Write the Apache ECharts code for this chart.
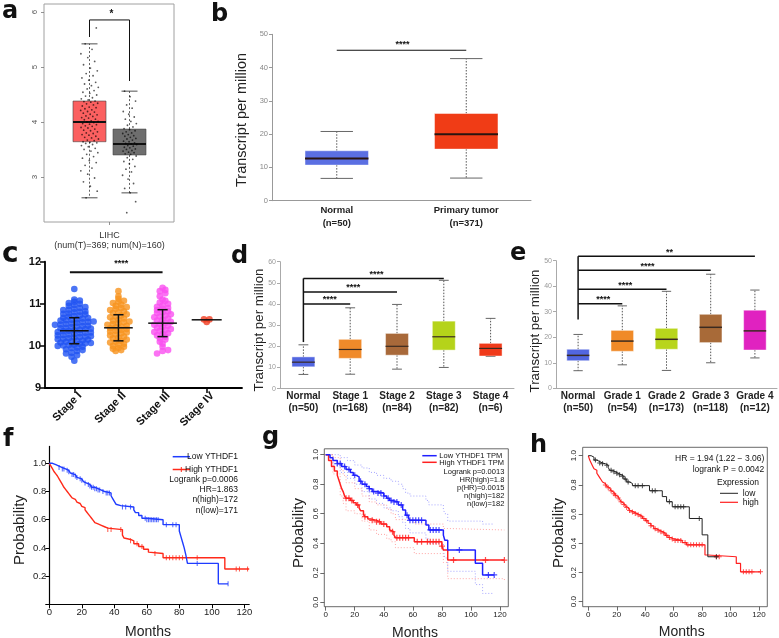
<!DOCTYPE html>
<html><head><meta charset="utf-8">
<script src="https://cdn.jsdelivr.net/npm/echarts@6/dist/echarts.min.js"></script>
<style>html,body{margin:0;padding:0;background:#fff}#c{width:779px;height:638px}</style>
</head><body><div id="c"></div>
<script>
// ---------- panel a ----------
const aStats = [[2.62,3.64,4.00,4.38,5.42],[2.71,3.40,3.60,3.87,4.56]]; // [low, q1, median, q3, high]
const aTumor = [2.62,2.74,2.83,2.91,2.98,3.05,3.11,3.16,3.21,3.26,3.3,3.34,3.37,3.41,3.44,3.47,3.5,3.52,3.55,3.57,3.59,3.61,3.62,3.63,3.64,
3.66,3.67,3.69,3.71,3.72,3.74,3.76,3.77,3.79,3.8,3.82,3.84,3.85,3.87,3.89,3.9,3.92,3.93,3.95,3.96,3.97,3.99,4.0,4.01,4.02,4.04,4.05,4.07,4.08,4.1,4.11,4.13,4.14,4.16,4.18,4.19,4.21,4.22,4.24,4.26,4.27,4.29,4.31,4.33,4.34,4.36,4.37,4.38,
4.4,4.42,4.44,4.47,4.49,4.52,4.54,4.57,4.6,4.63,4.66,4.69,4.72,4.76,4.8,4.84,4.88,4.93,4.98,5.04,5.1,5.17,5.24,5.32,5.42,5.71];
const aNormal = [2.35,2.55,2.71,2.79,2.88,2.96,3.03,3.09,3.14,3.19,3.24,3.28,3.32,3.35,3.38,
3.41,3.42,3.44,3.45,3.47,3.48,3.5,3.51,3.53,3.54,3.56,3.57,3.59,3.6,3.61,3.62,3.64,3.65,3.67,3.69,3.7,3.72,3.74,3.75,3.77,3.79,3.8,3.82,3.84,3.86,
3.88,3.91,3.94,3.97,4.01,4.05,4.09,4.14,4.19,4.25,4.31,4.38,4.46,4.56];
const aTicks = [3,4,5,6];
const aBracket = [[1,5.545],[1,5.855],[2,5.855],[2,4.745]];
// ---------- panel b ----------
const bCats = ['Normal\n(n=50)','Primary tumor\n(n=371)'];
const bStats = [[6.7,10.7,12.7,15.0,20.8],[6.8,15.5,20.0,26.2,42.7]];
const bTicks = [0,10,20,30,40,50];
const bSig = 45.2;
// ---------- panel c ----------
const cCats = ['Stage I','Stage II','Stage III','Stage IV'];
const cStage1 = [9.65,9.74,9.78,9.82,9.84,9.88,9.9,9.92,9.95,9.96,9.98,10.0,10.01,10.02,10.03,10.05,10.06,10.07,10.08,10.1,10.11,10.12,10.13,10.15,10.16,10.17,10.18,10.2,10.21,10.22,10.23,10.25,10.26,10.27,10.28,10.3,10.31,10.32,10.33,10.35,10.36,10.37,10.38,10.4,10.41,10.42,10.43,10.45,10.46,10.47,10.48,10.5,10.51,10.52,10.53,10.55,10.56,10.57,10.58,10.6,10.61,10.62,10.63,10.65,10.66,10.67,10.7,10.71,10.72,10.75,10.76,10.77,10.8,10.81,10.82,10.85,10.86,10.88,10.9,10.92,10.95,10.97,11.0,11.02,11.05,11.08,11.1,11.35];
const cStage2 = [9.88,9.9,9.93,9.95,9.98,10.0,10.03,10.05,10.08,10.1,10.12,10.15,10.18,10.2,10.22,10.25,10.27,10.3,10.32,10.34,10.36,10.38,10.4,10.42,10.44,10.46,10.48,10.5,10.52,10.54,10.56,10.58,10.6,10.62,10.65,10.68,10.7,10.72,10.75,10.78,10.8,10.82,10.85,10.88,10.9,10.92,10.95,10.98,11.02,11.05,11.07,11.12,11.18,11.3];
const cStage3 = [9.82,9.88,9.9,9.98,10.05,10.1,10.15,10.18,10.22,10.25,10.28,10.3,10.33,10.36,10.38,10.4,10.43,10.45,10.48,10.5,10.52,10.55,10.57,10.6,10.62,10.65,10.68,10.7,10.72,10.75,10.78,10.8,10.82,10.85,10.88,10.9,10.93,10.96,11.0,11.03,11.07,11.1,11.18,11.25,11.3,11.33,11.38];
const cStage4 = [10.63,10.57,10.63];
const cMean = [10.36,10.43,10.54,10.62];
const cSD = [0.31,0.31,0.32,0.02];
const cTicks = [9,10,11,12];
const cSig = [0.9,3.0,11.75];
// ---------- panel d ----------
const dCats = ['Normal\n(n=50)','Stage 1\n(n=168)','Stage 2\n(n=84)','Stage 3\n(n=82)','Stage 4\n(n=6)'];
const dStats = [[6.7,10.3,12.5,15.0,20.7],[6.8,14.3,18.5,23.3,38.2],[9.2,15.8,20.0,26.1,39.8],[10.0,18.2,24.5,31.9,51.2],[15.2,15.4,19.0,21.4,33.2]];
const dTicks = [0,10,20,30,40,50,60];
const dBase = 22;
const dBrackets = [[1,40.0,'****'],[2,45.7,'****'],[3,52.1,'****']];
// ---------- panel e ----------
const eCats = ['Normal\n(n=50)','Grade 1\n(n=54)','Grade 2\n(n=173)','Grade 3\n(n=118)','Grade 4\n(n=12)'];
const eStats = [[6.9,10.8,12.9,15.3,21.1],[9.2,14.5,18.5,22.7,32.3],[7.0,15.3,19.2,23.5,38.0],[10.0,17.9,23.9,29.0,44.7],[11.9,15.0,22.5,30.6,38.5]];
const eTicks = [0,10,20,30,40,50];
const eBase = 27;
const eBrackets = [[1,33.1,'****'],[2,38.8,'****'],[3,46.3,'****'],[4,51.7,'**']];
// ---------- panel f ----------
const fLow = [[0,1],[2,0.99],[4,0.98],[6,0.97],[8,0.96],[10,0.95],[12,0.94],[13,0.93],[14,0.92],[16,0.91],[17,0.9],[18,0.89],[20,0.88],[21,0.87],[22,0.86],[23,0.85],[25,0.84],[26,0.83],[28,0.82],[30,0.81],[32,0.8],[34,0.79],[38,0.77],[39,0.75],[40,0.73],[41,0.71],[42,0.7],[44,0.69],[52,0.67],[53,0.65],[55,0.63],[57,0.61],[60,0.6],[70,0.565],[80,0.52],[81,0.48],[82,0.44],[83,0.4],[84,0.35],[85,0.29],[104,0.145],[110,0.145]];
const fHigh = [[0,1],[1,0.98],[2,0.96],[3,0.94],[4,0.925],[5,0.91],[6,0.89],[7,0.87],[8,0.85],[9,0.83],[10,0.815],[11,0.8],[12,0.785],[13,0.77],[14,0.755],[15,0.745],[16,0.735],[17,0.725],[18,0.715],[19,0.705],[20,0.695],[21,0.685],[22,0.67],[23,0.655],[24,0.64],[25,0.625],[26,0.61],[27,0.595],[28,0.58],[29,0.57],[30,0.56],[32,0.55],[34,0.54],[36,0.53],[45,0.49],[46,0.47],[47,0.46],[50,0.45],[52,0.43],[55,0.41],[58,0.39],[61,0.37],[62,0.36],[70,0.33],[108,0.25],[123,0.25]];
const fLowCens = [6,8,9,11,12,14,15,16,17,19,20,22,24,25,26,27,28,29,30,31,33,35,36,37,45,47,50,59,60,61,62,63,64,65,66,67,72,76,78,91,110];
const fHighCens = [36,38,44,50,54,57,65,72,74,76,78,80,82,91,115,117,122];
const fXTicks = [0,20,40,60,80,100,120];
const fYTicks = [0,0.2,0.4,0.6,0.8,1.0];
// ---------- panel g ----------
const gLow = [[0,1],[3,0.98],[5,0.96],[8,0.94],[11,0.92],[14,0.9],[17,0.88],[19,0.86],[21,0.85],[23,0.82],[25,0.8],[28,0.785],[30,0.77],[32,0.75],[35,0.74],[40,0.72],[42,0.705],[44,0.69],[46,0.68],[50,0.66],[53,0.625],[55,0.59],[57,0.57],[58,0.555],[69,0.524],[71,0.49],[81,0.455],[82,0.42],[84,0.355],[103,0.264],[108,0.185],[116,0.185]];
const gHigh = [[0,1],[2,0.96],[4,0.92],[6,0.89],[8,0.86],[9,0.83],[10,0.8],[11,0.77],[12,0.75],[13,0.72],[14,0.705],[17,0.69],[19,0.675],[21,0.66],[23,0.64],[24,0.62],[26,0.595],[27,0.58],[29,0.565],[31,0.555],[35,0.545],[38,0.53],[42,0.512],[44,0.49],[45,0.478],[47,0.455],[48,0.438],[61,0.41],[80,0.38],[81,0.355],[84,0.286],[123,0.286]];
const gLowUp = [[0,1],[10,0.98],[15,0.96],[20,0.93],[25,0.91],[30,0.88],[35,0.86],[40,0.84],[45,0.82],[50,0.8],[53,0.77],[55,0.74],[58,0.72],[69,0.69],[71,0.66],[81,0.63],[82,0.6],[84,0.55],[108,0.53],[116,0.53]];
const gLowLo = [[0,1],[5,0.93],[10,0.88],[15,0.84],[20,0.8],[25,0.75],[30,0.7],[35,0.67],[40,0.64],[45,0.62],[50,0.58],[53,0.54],[55,0.5],[58,0.47],[69,0.43],[71,0.4],[81,0.35],[82,0.3],[84,0.21],[103,0.12],[108,0.06],[116,0.06]];
const gHighUp = [[0,1],[5,0.98],[10,0.9],[12,0.86],[14,0.81],[20,0.77],[25,0.72],[30,0.68],[35,0.66],[42,0.63],[45,0.6],[48,0.56],[61,0.53],[81,0.5],[84,0.49],[123,0.49]];
const gHighLo = [[0,1],[5,0.87],[10,0.72],[12,0.67],[14,0.62],[20,0.6],[25,0.55],[30,0.49],[35,0.46],[42,0.43],[45,0.41],[48,0.37],[61,0.33],[81,0.27],[84,0.16],[123,0.15]];
const gLowCens = [8,10,13,16,20,24,27,30,33,36,38,40,43,45,47,49,52,56,58,60,62,64,66,72,74,76,78,92,112,116];
const gHighCens = [14,16,18,22,27,32,35,37,40,46,49,51,53,55,57,63,66,70,72,74,76,78,80,88,110,123];
const gXTicks = [0,20,40,60,80,100,120];
const gYTicks = [0,0.2,0.4,0.6,0.8,1.0];
// ---------- panel h ----------
const hLow = [[0,1],[2,0.99],[4,0.97],[6,0.96],[8,0.95],[10,0.945],[12,0.935],[14,0.92],[15,0.9],[17,0.89],[19,0.88],[21,0.87],[23,0.86],[25,0.84],[27,0.82],[29,0.81],[31,0.795],[43,0.76],[52,0.72],[55,0.685],[59,0.65],[71,0.57],[80,0.458],[84,0.308],[91,0.308]];
const hHigh = [[0,1],[1,0.97],[2,0.95],[3,0.93],[4,0.91],[5,0.9],[6,0.88],[7,0.865],[8,0.85],[9,0.835],[10,0.82],[11,0.81],[12,0.8],[13,0.79],[14,0.78],[15,0.77],[16,0.76],[17,0.75],[18,0.74],[19,0.73],[20,0.72],[21,0.71],[22,0.7],[23,0.685],[24,0.675],[25,0.665],[26,0.655],[27,0.645],[28,0.635],[29,0.625],[30,0.615],[32,0.605],[34,0.595],[36,0.585],[38,0.57],[40,0.555],[42,0.537],[44,0.52],[46,0.5],[48,0.49],[50,0.48],[52,0.47],[54,0.455],[56,0.44],[58,0.43],[60,0.42],[66,0.405],[69,0.39],[82,0.32],[84,0.308],[104,0.262],[107,0.205],[121,0.205]];
const hLowCens = [5,8,10,13,16,18,20,22,24,26,28,33,35,38,45,47,57,61,63,65,67,78,90];
const hHighCens = [12,14,16,18,19,21,23,25,27,29,31,33,35,37,39,41,44,47,49,51,53,55,57,59,61,63,65,68,70,72,74,76,78,80,90,92,109,111,113,115,121];
const hXTicks = [0,20,40,60,80,100,120];
const hYTicks = [0,0.2,0.4,0.6,0.8,1.0];

// ================= helpers =================
const FONT = '"Liberation Sans", Arial, Helvetica, sans-serif';
const chart = echarts.init(document.getElementById('c'));

function boxSeries(gi, stats, st){
  return {type:'custom', xAxisIndex:gi, yAxisIndex:gi, clip:false, z:3, silent:true,
    data: stats.map((s,i)=>[st.pos ? st.pos[i] : i].concat(s)),
    encode:{x:0, y:[1,2,3,4,5]},
    renderItem:function(params, api){
      const x = api.value(0);
      const p = [1,2,3,4,5].map(k=>api.coord([x, api.value(k)]));
      const unit = api.size([1,0])[0];
      const bw = unit*st.box, cw = unit*st.cap, cx = p[0][0];
      const ws = {stroke:st.wColor, lineWidth:st.wWidth, lineDash:st.wDash};
      const cs = {stroke:st.cColor, lineWidth:st.cWidth};
      return {type:'group', children:[
        {type:'line', shape:{x1:cx,y1:p[3][1],x2:cx,y2:p[4][1]}, style:ws},
        {type:'line', shape:{x1:cx,y1:p[1][1],x2:cx,y2:p[0][1]}, style:ws},
        {type:'line', shape:{x1:cx-cw/2,y1:p[4][1],x2:cx+cw/2,y2:p[4][1]}, style:cs},
        {type:'line', shape:{x1:cx-cw/2,y1:p[0][1],x2:cx+cw/2,y2:p[0][1]}, style:cs},
        {type:'rect', shape:{x:cx-bw/2,y:p[3][1],width:bw,height:p[1][1]-p[3][1]}, style:{fill:st.colors[params.dataIndex], stroke:st.bStroke, lineWidth:st.bWidth}},
        {type:'line', shape:{x1:cx-bw/2,y1:p[2][1],x2:cx+bw/2,y2:p[2][1]}, style:{stroke:st.mColor, lineWidth:st.mWidth}}
      ]};
    }};
}
function pathSeries(gi, paths, stroke, width){
  return {type:'custom', xAxisIndex:gi, yAxisIndex:gi, clip:false, z:4, silent:true,
    data: paths.map(p=>p[0]),
    renderItem:(params, api)=>({type:'polyline', shape:{points: paths[params.dataIndex].map(pt=>api.coord(pt))}, style:{stroke:stroke, lineWidth:width, fill:null}})};
}
function starSeries(gi, items, font){ // [x0, x1, y, text, dxPx, dyPx]
  return {type:'custom', xAxisIndex:gi, yAxisIndex:gi, clip:false, z:5, silent:true,
    data: items.map(it=>[it[0], it[2]]),
    renderItem:(params, api)=>{
      const it = items[params.dataIndex];
      const a = api.coord([it[0], it[2]]), b = api.coord([it[1], it[2]]);
      return {type:'text', x:(a[0]+b[0])/2 + (it[4]||0), y:a[1] + (it[5]||0),
        style:{text:it[3], font:font, fill:'#111', align:'center', verticalAlign:'middle', textAlign:'center', textVerticalAlign:'middle'}};
    }};
}
function km(gi, data, color, width, dash){
  return {type:'line', xAxisIndex:gi, yAxisIndex:gi, data:data, step:'end', showSymbol:false, symbol:'none', silent:true, z:3,
    lineStyle:{color:color, width:width, type:dash||'solid'}};
}
function censor(gi, times, curve, color, symbol, size){
  const pts = times.map(t=>{ let s = curve[0][1]; for (const p of curve){ if (p[0] <= t) s = p[1]; } return [t, s]; });
  return {type:'scatter', xAxisIndex:gi, yAxisIndex:gi, data:pts, symbol:symbol, symbolSize:size, itemStyle:{color:color}, silent:true, z:4};
}
function jitter(vals, center, spread){
  return vals.map((v,i)=>[center + (((i*0.6180339887 + 0.31) % 1) - 0.5)*spread, v]);
}
function swarm(vals, center, binH, dx){
  const sorted = vals.slice().sort((a,b)=>a-b);
  const bins = {};
  sorted.forEach(v=>{ const k = Math.round(v/binH); (bins[k] = bins[k] || []).push(v); });
  const out = [];
  Object.keys(bins).forEach(k=>{ const arr = bins[k]; const n = arr.length; arr.forEach((v,j)=>out.push([center + (j-(n-1)/2)*dx, v])); });
  return out;
}
const PLUS = 'path://M0,4H10V6H0Z M4,0H6V10H4Z';
function T(x, y, text, font, o){
  o = o || {};
  const al = o.align || 'center', va = o.va || 'middle';
  return {type:'text', x:x, y:y, rotation:o.rot||0, silent:true, z:100,
    style:{text:text, font:font, fill:o.fill||'#111', align:al, verticalAlign:va, textAlign:al, textVerticalAlign:va}};
}
function L(x1,y1,x2,y2,color,w){ return {type:'line', silent:true, z:100, shape:{x1,y1,x2,y2}, style:{stroke:color, lineWidth:w}}; }
const noSplit = {show:false};

// ================= grids & axes =================
const grids = [
  {left:44, top:4, width:130, height:218, show:true, borderColor:'#a0a0a0', borderWidth:1},   // a
  {left:272, top:34.3, width:259, height:166.4},                                                // b
  {left:45, top:261.7, width:197, height:126.3},                                                // c
  {left:280, top:261.7, width:234, height:126.9},                                               // d
  {left:556, top:260.7, width:221, height:127.6},                                               // e
  {left:49.3, top:446.4, width:199.9, height:157.9},                                            // f
  {left:324.3, top:448.8, width:184, height:157.9, show:true, borderColor:'#444', borderWidth:0.8}, // g
  {left:582.7, top:447.3, width:184.6, height:159.4, show:true, borderColor:'#444', borderWidth:0.8} // h
];
const lbl = (o)=>Object.assign({fontFamily:FONT}, o);
const xAxes = [
  {type:'value', gridIndex:0, min:-0.1375, max:3.1125, splitLine:noSplit, axisLine:{show:false, onZero:false},
    axisTick:{show:true, length:3, customValues:[1.5], lineStyle:{color:'#777', width:0.8}},
    axisLabel:lbl({customValues:[1.5], formatter:()=> 'LIHC\n(num(T)=369; num(N)=160)', fontSize:9, lineHeight:9.5, color:'#333', margin:9})},
  {type:'category', gridIndex:1, data:bCats, axisLine:{lineStyle:{color:'#999', width:1}}, axisTick:{show:false},
    axisLabel:lbl({interval:0, fontSize:9.5, fontWeight:'bold', color:'#222', lineHeight:12.3, margin:4})},
  {type:'value', gridIndex:2, min:0.336, max:4.8, splitLine:noSplit, axisLine:{onZero:false, lineStyle:{color:'#000', width:1.8}},
    axisTick:{show:true, length:5, customValues:[1,2,3,4], lineStyle:{color:'#000', width:1.5}},
    axisLabel:lbl({customValues:[1.13,2.13,3.13,4.13], formatter:(v)=>cCats[Math.round(v-0.13)-1], rotate:45, fontSize:11, fontWeight:'bold', color:'#111', margin:6})},
  {type:'category', gridIndex:3, data:dCats, axisLine:{lineStyle:{color:'#aaa', width:1}}, axisTick:{show:false},
    axisLabel:lbl({interval:0, fontSize:10, fontWeight:'bold', color:'#222', lineHeight:11.7, margin:2})},
  {type:'category', gridIndex:4, data:eCats, axisLine:{lineStyle:{color:'#aaa', width:1}}, axisTick:{show:false},
    axisLabel:lbl({interval:0, fontSize:10, fontWeight:'bold', color:'#222', lineHeight:11.8, margin:2})},
  {type:'value', gridIndex:5, min:0, max:123, splitLine:noSplit, axisLine:{onZero:false, lineStyle:{color:'#000', width:1.2}},
    axisTick:{show:true, length:4, customValues:fXTicks, lineStyle:{color:'#000', width:1}},
    axisLabel:lbl({customValues:fXTicks, fontSize:9.5, color:'#222', margin:3})},
  {type:'value', gridIndex:6, min:-0.96, max:125.7, splitLine:noSplit, axisLine:{show:false, onZero:false},
    axisTick:{show:true, length:4, customValues:gXTicks, lineStyle:{color:'#444', width:0.8}},
    axisLabel:lbl({customValues:gXTicks, fontSize:8, color:'#222', margin:4})},
  {type:'value', gridIndex:7, min:-3.94, max:125.8, splitLine:noSplit, axisLine:{show:false, onZero:false},
    axisTick:{show:true, length:4, customValues:hXTicks, lineStyle:{color:'#444', width:0.8}},
    axisLabel:lbl({customValues:hXTicks, fontSize:8, color:'#222', margin:4})}
];
const yAxes = [
  {type:'value', gridIndex:0, min:2.18, max:6.145, splitLine:noSplit, axisLine:{show:false, onZero:false},
    axisTick:{show:true, length:3, customValues:aTicks, lineStyle:{color:'#777', width:0.8}},
    axisLabel:lbl({customValues:aTicks, rotate:90, fontSize:8, color:'#555', margin:5})},
  {type:'value', gridIndex:1, min:0, max:50, splitLine:noSplit, axisLine:{show:true, lineStyle:{color:'#999', width:1}},
    axisTick:{show:true, length:3, customValues:bTicks, lineStyle:{color:'#999'}},
    axisLabel:lbl({customValues:bTicks, fontSize:7.5, color:'#888', margin:4})},
  {type:'value', gridIndex:2, min:9, max:12, splitLine:noSplit, axisLine:{show:true, onZero:false, lineStyle:{color:'#000', width:1.8}},
    axisTick:{show:true, length:5, customValues:cTicks, lineStyle:{color:'#000', width:1.5}},
    axisLabel:lbl({customValues:cTicks, fontSize:11, fontWeight:'bold', color:'#111', margin:4})},
  {type:'value', gridIndex:3, min:0, max:60, splitLine:noSplit, axisLine:{show:true, lineStyle:{color:'#aaa', width:1}},
    axisTick:{show:true, length:3, customValues:dTicks, lineStyle:{color:'#aaa'}},
    axisLabel:lbl({customValues:dTicks, fontSize:7, color:'#999', margin:4})},
  {type:'value', gridIndex:4, min:0, max:50, splitLine:noSplit, axisLine:{show:true, lineStyle:{color:'#aaa', width:1}},
    axisTick:{show:true, length:3, customValues:eTicks, lineStyle:{color:'#aaa'}},
    axisLabel:lbl({customValues:eTicks, fontSize:7, color:'#999', margin:4})},
  {type:'value', gridIndex:5, min:0, max:1.12, splitLine:noSplit, axisLine:{show:true, onZero:false, lineStyle:{color:'#000', width:1.2}},
    axisTick:{show:true, length:4, customValues:fYTicks, lineStyle:{color:'#000', width:1}},
    axisLabel:lbl({customValues:fYTicks.slice(1), formatter:(v)=>v.toFixed(1), fontSize:9.5, color:'#222', margin:3})},
  {type:'value', gridIndex:6, min:-0.03, max:1.04, splitLine:noSplit, axisLine:{show:false, onZero:false},
    axisTick:{show:true, length:4, customValues:gYTicks, lineStyle:{color:'#444', width:0.8}},
    axisLabel:lbl({customValues:gYTicks, formatter:(v)=>v.toFixed(1), rotate:90, fontSize:8, color:'#222', margin:5})},
  {type:'value', gridIndex:7, min:-0.034, max:1.0575, splitLine:noSplit, axisLine:{show:false, onZero:false},
    axisTick:{show:true, length:4, customValues:hYTicks, lineStyle:{color:'#444', width:0.8}},
    axisLabel:lbl({customValues:hYTicks, formatter:(v)=>v.toFixed(1), rotate:90, fontSize:8, color:'#222', margin:5})}
];

// ================= series =================
const series = [];
// a
series.push(boxSeries(0, aStats, {pos:[1,2], colors:['#fb6060','#6e6e6e'], box:0.825, cap:0.4, wColor:'#222', wWidth:0.7, wDash:[2,2], cColor:'#222', cWidth:0.8, bStroke:'#444', bWidth:0.6, mColor:'#111', mWidth:2}));
series.push({type:'scatter', xAxisIndex:0, yAxisIndex:0, data:jitter(aTumor, 1, 0.45), symbolSize:1.8, itemStyle:{color:'rgba(0,0,0,0.8)'}, silent:true, z:6});
series.push({type:'scatter', xAxisIndex:0, yAxisIndex:0, data:jitter(aNormal, 2, 0.36), symbolSize:1.8, itemStyle:{color:'rgba(0,0,0,0.8)'}, silent:true, z:6});
series.push(pathSeries(0, [aBracket], '#111', 1));
series.push(starSeries(0, [[1,2,5.855,'*',2,-6]], 'bold 10px ' + FONT));
// b
series.push(boxSeries(1, bStats, {colors:['#5b6fe2','#f03c16'], box:0.49, cap:0.25, wColor:'#555', wWidth:1, wDash:[1.5,1.5], cColor:'#666', cWidth:1, bStroke:'rgba(255,255,255,0.45)', bWidth:1, mColor:'#2a1410', mWidth:2}));
series.push(pathSeries(1, [[[0,bSig],[1,bSig]]], '#111', 1.2));
series.push(starSeries(1, [[0,1,bSig,'****',1,-6]], 'bold 9px ' + FONT));
// c
const cColors = ['#1f52f2','#f7931e','#fa4ff0','#f03c20'];
[cStage1, cStage2, cStage3, cStage4].forEach((vals,i)=>{
  series.push({type:'scatter', xAxisIndex:2, yAxisIndex:2, data:swarm(vals, i+1, 0.085, 0.125), symbolSize:6.6, itemStyle:{color:cColors[i]}, silent:true, z:3});
});
series.push({type:'custom', xAxisIndex:2, yAxisIndex:2, clip:false, z:6, silent:true,
  data: cMean.map((m,i)=>[i+1, m, cSD[i]]),
  renderItem:(params, api)=>{
    const x = api.value(0), m = api.value(1), sd = api.value(2);
    const pm = api.coord([x,m]), pt = api.coord([x,m+sd]), pb = api.coord([x,m-sd]);
    const unit = api.size([1,0])[0];
    const mw = unit*(params.dataIndex===3 ? 0.68 : 0.65), cw = unit*0.23;
    const s = {stroke:'#111', lineWidth:1.5};
    const ch = [{type:'line', shape:{x1:pm[0]-mw/2,y1:pm[1],x2:pm[0]+mw/2,y2:pm[1]}, style:s}];
    if (params.dataIndex !== 3) {
      ch.push({type:'line', shape:{x1:pm[0],y1:pt[1],x2:pm[0],y2:pb[1]}, style:s});
      ch.push({type:'line', shape:{x1:pm[0]-cw/2,y1:pt[1],x2:pm[0]+cw/2,y2:pt[1]}, style:s});
      ch.push({type:'line', shape:{x1:pm[0]-cw/2,y1:pb[1],x2:pm[0]+cw/2,y2:pb[1]}, style:s});
    }
    return {type:'group', children:ch};
  }});
series.push(pathSeries(2, [[[cSig[0],cSig[2]],[cSig[1],cSig[2]]]], '#111', 2));
series.push(starSeries(2, [[cSig[0],cSig[1],cSig[2],'****',5,-9]], 'bold 9px ' + FONT));
// d
series.push(boxSeries(3, dStats, {colors:['#5266e0','#f08a2a','#a8693a','#b5d31a','#f03a1a'], box:0.49, cap:0.21, wColor:'#555', wWidth:1, wDash:[1.5,1.5], cColor:'#666', cWidth:1, bStroke:'rgba(255,255,255,0.45)', bWidth:1, mColor:'#3a2a20', mWidth:1.2}));
series.push(pathSeries(3, [[[0,dBase],[0,dBrackets[2][1]]]].concat(dBrackets.map(b=>[[0,b[1]],[b[0],b[1]]])), '#111', 1.5));
series.push(starSeries(3, dBrackets.map(b=>[0,b[0],b[1],b[2],3,-4]), 'bold 9px ' + FONT));
// e
series.push(boxSeries(4, eStats, {colors:['#5266e0','#f08a28','#b8d51c','#a86a38','#e022c0'], box:0.51, cap:0.21, wColor:'#555', wWidth:1, wDash:[1.5,1.5], cColor:'#666', cWidth:1, bStroke:'rgba(255,255,255,0.45)', bWidth:1, mColor:'#3a2a20', mWidth:1.5}));
series.push(pathSeries(4, [[[0,eBase],[0,eBrackets[3][1]]]].concat(eBrackets.map(b=>[[0,b[1]],[b[0],b[1]]])), '#111', 1.5));
series.push(starSeries(4, eBrackets.map(b=>[0,b[0],b[1],b[2],3,-4]), 'bold 9px ' + FONT));
// f
series.push(km(5, fHigh, '#ff2a1a', 1.4));
series.push(km(5, fLow, '#1f3cff', 1.4));
series.push(censor(5, fHighCens, fHigh, '#ff2a1a', 'rect', [1,5]));
series.push(censor(5, fLowCens, fLow, '#1f3cff', 'rect', [1,5]));
// g
series.push(km(6, gLowUp, '#8f8fff', 0.8, [1,2]));
series.push(km(6, gLowLo, '#8f8fff', 0.8, [1,2]));
series.push(km(6, gHighUp, '#ff8f8f', 0.8, [1,2]));
series.push(km(6, gHighLo, '#ff8f8f', 0.8, [1,2]));
series.push(km(6, gHigh, '#ff2020', 1.5));
series.push(km(6, gLow, '#2020ff', 1.5));
series.push(censor(6, gHighCens, gHigh, '#ff2020', PLUS, 6));
series.push(censor(6, gLowCens, gLow, '#2020ff', PLUS, 6));
// h
series.push(km(7, hHigh, '#ff2020', 1.2));
series.push(km(7, hLow, '#222', 1));
series.push(censor(7, hHighCens, hHigh, '#ff2020', PLUS, 5));
series.push(censor(7, hLowCens, hLow, '#222', PLUS, 5));

// ================= graphic texts =================
const LET = 'bold 24px "DejaVu Sans"';
const g = [
  T(2, 24, 'a', LET, {align:'left', va:'bottom'}),
  T(211, 26.4, 'b', LET, {align:'left', va:'bottom'}),
  T(2, 268.3, 'c', 'bold 28px "DejaVu Sans"', {align:'left', va:'bottom'}),
  T(231, 269, 'd', LET, {align:'left', va:'bottom'}),
  T(510, 265.7, 'e', LET, {align:'left', va:'bottom'}),
  T(3, 452, 'f', LET, {align:'left', va:'bottom'}),
  T(262, 450, 'g', LET, {align:'left', va:'bottom'}),
  T(530, 458, 'h', LET, {align:'left', va:'bottom'}),
  T(241.7, 120, 'Transcript per million', '14.5px ' + FONT, {rot:Math.PI/2, fill:'#222'}),
  T(259.5, 330, 'Transcript per million', '13.3px ' + FONT, {rot:Math.PI/2, fill:'#222'}),
  T(535, 331, 'Transcript per million', '13.3px ' + FONT, {rot:Math.PI/2, fill:'#222'}),
  T(20, 530, 'Probability', '15px ' + FONT, {rot:Math.PI/2, fill:'#222'}),
  T(148, 631.7, 'Months', '14px ' + FONT, {fill:'#222'}),
  T(299, 533, 'Probability', '15px ' + FONT, {rot:Math.PI/2, fill:'#222'}),
  T(415, 632.7, 'Months', '14px ' + FONT, {fill:'#222'}),
  T(559.3, 533, 'Probability', '15px ' + FONT, {rot:Math.PI/2, fill:'#222'}),
  T(681.7, 631.7, 'Months', '14px ' + FONT, {fill:'#222'}),
  // f legend
  L(172.7,456.7,190,456.7,'#1f3cff',1.5), L(172.7,469.5,190,469.5,'#ff2a1a',1.5), L(181.3,467,181.3,472,'#ff2a1a',1),
  T(238, 456.7, 'Low YTHDF1', '8.5px ' + FONT, {align:'right'}),
  T(238, 469.5, 'High YTHDF1', '8.5px ' + FONT, {align:'right'}),
  T(238, 480, 'Logrank p=0.0006', '8.5px ' + FONT, {align:'right'}),
  T(238, 490, 'HR=1.863', '8.5px ' + FONT, {align:'right'}),
  T(238, 500, 'n(high)=172', '8.5px ' + FONT, {align:'right'}),
  T(238, 510.5, 'n(low)=171', '8.5px ' + FONT, {align:'right'}),
  // g legend
  L(422.3,455.7,436.7,455.7,'#2020ff',1.5), L(422.3,462.3,436.7,462.3,'#ff2020',1.5),
  T(439.3, 455.7, 'Low YTHDF1 TPM', '7.5px ' + FONT, {align:'left'}),
  T(439.3, 462.5, 'High YTHDF1 TPM', '7.5px ' + FONT, {align:'left'}),
  T(504.3, 471.7, 'Logrank p=0.0013', '7.5px ' + FONT, {align:'right'}),
  T(504.3, 479.5, 'HR(high)=1.8', '7.5px ' + FONT, {align:'right'}),
  T(504.3, 487.5, 'p(HR)=0.0015', '7.5px ' + FONT, {align:'right'}),
  T(504.3, 496, 'n(high)=182', '7.5px ' + FONT, {align:'right'}),
  T(504.3, 504, 'n(low)=182', '7.5px ' + FONT, {align:'right'}),
  // h legend
  T(764.3, 458.3, 'HR = 1.94 (1.22 \u2212 3.06)', '8.5px ' + FONT, {align:'right'}),
  T(764.3, 469.3, 'logrank P = 0.0042', '8.5px ' + FONT, {align:'right'}),
  T(738, 482.3, 'Expression', '8.5px ' + FONT),
  L(720,493.3,738,493.3,'#222',1), L(720,502.3,738,502.3,'#ff2020',1.2),
  T(742.7, 493.3, 'low', '8.5px ' + FONT, {align:'left'}),
  T(742.7, 502.3, 'high', '8.5px ' + FONT, {align:'left'})
];

chart.setOption({
  animation:false,
  backgroundColor:'#fff',
  textStyle:{fontFamily:FONT},
  grid:grids, xAxis:xAxes, yAxis:yAxes, series:series, graphic:{elements:g}
});
</script></body></html>
